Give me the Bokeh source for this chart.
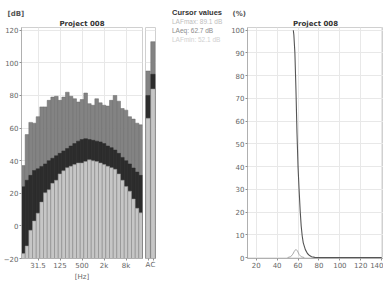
from bokeh.plotting import figure
from bokeh.layouts import row
from bokeh.models import FixedTicker, Range1d, FactorRange, Title, Div
from bokeh.embed import file_html
from bokeh.resources import INLINE

# ---------------- data ----------------
bands = ["12.5", "16", "20", "25", "31.5", "40", "50", "63", "80", "100", "125",
         "160", "200", "250", "315", "400", "500", "630", "800", "1k", "1.25k",
         "1.6k", "2k", "2.5k", "3.15k", "4k", "5k", "6.3k", "8k", "10k", "12.5k",
         "16k", "20k"]
lmax = [37, 56, 63.5, 63, 67, 73, 73, 77, 79, 79.5, 77, 79, 82, 79.5, 78, 76,
        77.5, 81.5, 75, 74, 78, 75.5, 74, 73.5, 77, 80, 76.5, 72, 71, 67, 65.5,
        63, 62]
leq = [24, 28, 31, 34, 35, 36.5, 38, 40, 41.5, 43, 44.5, 46, 47.5, 49, 50.5, 52,
       53, 53.5, 53, 52.5, 52, 51.5, 50.5, 49, 48, 46.5, 44.5, 42, 40, 38, 35.5,
       33, 31]
lmin = [-17, -12.3, -2.7, 3, 7.8, 14.6, 20.3, 22.2, 26.1, 28, 31.9, 33.8, 35.7,
        36.6, 37.6, 38.6, 38.6, 39.5, 40.5, 39.9, 39.5, 38.6, 37.6, 36.6, 35.7,
        34.7, 31.9, 28, 24.2, 21.3, 16.5, 10.8, 8]
tick_bands = ["31.5", "125", "500", "2k", "8k"]

ac_labels = ["A", "C"]
ac_max = [95, 113]
ac_leq = [80, 93]
ac_min = [66, 84]

cum_level = [55.5, 56, 57, 58, 59, 60, 61, 62, 63, 64, 65, 67, 69, 71, 73, 76,
             80, 100, 120, 140]
cum_pct = [100, 98, 90, 74, 55, 40, 30, 21, 14, 9.5, 6.5, 3.5, 1.8, 0.9, 0.4,
           0.1, 0, 0, 0, 0]
dist_level = [50, 53, 55, 56.5, 58, 59.5, 61, 63, 66]
dist_pct = [0, 0.4, 1.5, 2.8, 3.6, 2.9, 1.4, 0.4, 0]

pct_ticks = [0, 10, 20, 30, 40, 50, 60, 70, 80, 90, 100]
lvl_ticks = [20, 40, 60, 80, 100, 120, 140]
db_ticks = [-20, 0, 20, 40, 60, 80, 100, 120]

title_text = "Project 008"
cursor_head = "Cursor values"
cursor_lines = ["LAFmax: 89.1 dB", "LAeq: 62.7 dB", "LAFmin: 52.1 dB"]
cursor_colors = ["#bdbdbd", "#8a8a8a", "#d0d0d0"]

FONT = "DejaVu Sans"
FONT2 = "Liberation Sans"
C_MAX = "#838383"
C_EQ = "#2c2c2c"
C_MIN = "#c6c6c6"


def style(p):
    p.background_fill_color = "white"
    p.border_fill_color = "white"
    p.outline_line_color = "#d0d0d0"
    for ax in p.axis:
        ax.major_label_text_font_size = "7px"
        ax.major_label_text_color = "#666666"
        ax.major_label_text_font = FONT
        ax.axis_line_color = "#b0b0b0"
        ax.major_tick_line_color = "#909090"
        ax.minor_tick_line_color = None
        ax.major_tick_in = 0
        ax.major_tick_out = 2
        ax.major_label_standoff = 1
        ax.axis_label_text_font_size = "7px"
        ax.axis_label_text_font = FONT
        ax.axis_label_text_font_style = "normal"
        ax.axis_label_text_color = "#666666"
        ax.axis_label_standoff = 0
    p.grid.grid_line_color = "#e8e8e8"


def small_title(p, t, align, offset=0, bold=False, color="#333333"):
    p.title.text = t
    p.title.align = align
    p.title.offset = offset
    p.title.standoff = 0
    p.title.text_font = FONT
    p.title.text_font_size = "7px"
    p.title.text_font_style = "bold" if bold else "normal"
    p.title.text_color = color


def add_top_title(p, t):
    p.add_layout(Title(text=t, align="center", standoff=0, text_font=FONT,
                       text_font_size="7px", text_font_style="bold",
                       text_color="#333333"), "above")


idx = list(range(len(bands)))
yr = Range1d(-20, 121.7)

# ---------------- left: 1/3 octave bands ----------------
p1 = figure(width=144, height=283, x_range=Range1d(-0.5, len(bands) - 0.5),
            y_range=yr, output_backend="svg", toolbar_location=None,
            min_border_left=14, min_border_right=2, min_border_top=24,
            min_border_bottom=19)
p1.vbar(x=idx, top=lmax, bottom=-20, width=1, fill_color=C_MAX,
        line_color="#6a6a6a", line_width=0.5)
p1.vbar(x=idx, top=leq, bottom=-20, width=1, fill_color=C_EQ,
        line_color=C_EQ, line_width=0.5)
p1.vbar(x=idx, top=lmin, bottom=-20, width=1, fill_color=C_MIN,
        line_color="#8f8f8f", line_width=0.5)
p1.xaxis.ticker = FixedTicker(ticks=[bands.index(b) for b in tick_bands])
p1.xaxis.major_label_overrides = {bands.index(b): b for b in tick_bands}
p1.xaxis.axis_label = "[Hz]"
p1.yaxis.ticker = FixedTicker(ticks=db_ticks)
style(p1)
small_title(p1, "[dB]", "left", offset=-14, bold=True, color="#555555")
add_top_title(p1, title_text)

# ---------------- A / C panel ----------------
p2 = figure(width=12, height=283, x_range=FactorRange(*ac_labels, range_padding=0),
            y_range=yr, output_backend="svg", toolbar_location=None,
            min_border_left=1, min_border_right=1, min_border_top=24,
            min_border_bottom=19)
p2.vbar(x=ac_labels, top=ac_max, bottom=-20, width=0.9, fill_color=C_MAX,
        line_color="#6a6a6a", line_width=0.5)
p2.vbar(x=ac_labels, top=ac_leq, bottom=-20, width=0.9, fill_color=C_EQ,
        line_color=C_EQ, line_width=0.5)
p2.vbar(x=ac_labels, top=ac_min, bottom=-20, width=0.9, fill_color=C_MIN,
        line_color="#8f8f8f", line_width=0.5)
style(p2)
p2.yaxis.visible = False
p2.xgrid.grid_line_color = None
p2.xaxis.major_label_standoff = 0
p2.title.visible = False

# ---------------- cursor values panel ----------------
lines_html = "".join(
    f'<div style="color:{c};font-size:6.5px;line-height:9px;">{t}</div>'
    for t, c in zip(cursor_lines, cursor_colors))
html = (f'<div style="font-family:\'{FONT2}\';padding:8px 0 0 16px;'
        f'white-space:nowrap;">'
        f'<div style="font-size:7.5px;font-weight:bold;color:#333;'
        f'line-height:9px;">{cursor_head}</div>{lines_html}</div>')
pc = Div(text=html, width=72, height=283, margin=0,
         styles={"overflow": "hidden", "background": "white"})

# ---------------- right: distribution ----------------
p3 = figure(width=155, height=283, x_range=Range1d(11.7, 141.7),
            y_range=Range1d(-0.4, 101.2), output_backend="svg",
            toolbar_location=None, min_border_left=17, min_border_right=0,
            min_border_top=27, min_border_bottom=14)
p3.line(dist_level, dist_pct, line_color="#a8a8a8", line_width=1)
p3.line(cum_level, cum_pct, line_color="#555555", line_width=1.1)
p3.xaxis.ticker = FixedTicker(ticks=lvl_ticks)
p3.yaxis.ticker = FixedTicker(ticks=pct_ticks)
style(p3)
small_title(p3, "(%)", "left", offset=-15, bold=True, color="#555555")
add_top_title(p3, title_text)

layout = row(p1, p2, pc, p3)
open("out.html", "w").write(file_html(layout, INLINE))
